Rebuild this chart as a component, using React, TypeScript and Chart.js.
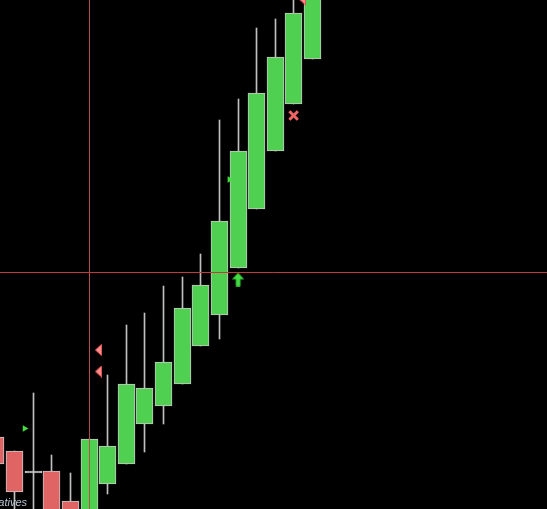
import React, { useEffect, useRef } from 'react';
import { Chart, registerables } from 'chart.js';

Chart.register(...registerables);

// Candle data (index on a linear axis, prices)
const candleIndex = [0, 1, 2, 3, 4, 5, 6, 7, 8, 9, 10, 11, 12, 13, 14, 15, 16, 17];
const opens = [107.2, 105.8, 103.8, 103.8, 100.8, 98.5, 102.5, 104.5, 108.5, 110.3, 112.5, 116.3, 119.4, 124.1, 130.0, 135.8, 140.5, 145.0];
const closes = [104.5, 101.7, 103.6, 99.0, 98.5, 107.0, 106.3, 112.5, 112.1, 114.7, 120.1, 122.4, 128.8, 135.8, 141.6, 145.2, 149.6, 153.0];
const highs = [107.2, 105.8, 111.6, 105.4, 103.6, 107.0, 113.4, 118.4, 119.6, 122.3, 123.2, 125.5, 138.9, 141.0, 148.1, 149.0, 151.5, 154.0];
const lows = [104.5, 99.0, 99.0, 98.0, 98.0, 98.0, 101.5, 104.5, 105.7, 108.5, 112.5, 116.3, 117.0, 124.1, 130.0, 135.8, 140.5, 145.0];

// Signal markers
const buyTriX = [1.54, 12.54];
const buyTriY = [108.05, 132.95];
const sellMarkX = [5.5, 5.5, 16.46];
const sellMarkY = [115.9, 113.75, 150.95];
const buyArrowX = [13.0];
const buyArrowY = [122.95];
const exitX = [15.98];
const exitY = [139.35];

// Crosshair
const crossX = 5;
const crossY = 123.65;

const labelText = 'Derivatives';

const GREEN = '#50d050';
const RED = '#e06464';
const EDGE = '#c8c8c8';

function makeArrow(): HTMLCanvasElement {
  const c = document.createElement('canvas');
  c.width = 12;
  c.height = 14;
  const g = c.getContext('2d')!;
  g.fillStyle = '#44dd44';
  g.strokeStyle = '#30b030';
  g.lineWidth = 1;
  g.beginPath();
  g.moveTo(6, 0.5);
  g.lineTo(11.5, 6.5);
  g.lineTo(8, 6.5);
  g.lineTo(8, 13.5);
  g.lineTo(4, 13.5);
  g.lineTo(4, 6.5);
  g.lineTo(0.5, 6.5);
  g.closePath();
  g.fill();
  g.stroke();
  return c;
}

function makeLeftMark(): HTMLCanvasElement {
  const c = document.createElement('canvas');
  c.width = 7;
  c.height = 12;
  const g = c.getContext('2d')!;
  g.fillStyle = '#ff8c8c';
  g.strokeStyle = '#e05454';
  g.lineWidth = 1;
  g.beginPath();
  g.moveTo(0.5, 6);
  g.lineTo(6.5, 0.5);
  g.lineTo(6.5, 11.5);
  g.closePath();
  g.fill();
  g.stroke();
  return c;
}

const snapPlugin = {
  id: 'snap',
  afterDatasetsUpdate(chart: any) {
    chart.data.datasets.forEach((_d: any, i: number) => {
      const meta = chart.getDatasetMeta(i);
      if (meta.type !== 'bar') return;
      meta.data.forEach((el: any) => {
        el.x = Math.floor(el.x) + 0.5;
        el.y = Math.round(el.y);
        el.base = Math.round(el.base);
      });
    });
  },
};

const crossPlugin = {
  id: 'cross',
  afterDatasetsDraw(chart: any) {
    const ctx = chart.ctx;
    const xs = chart.scales.x;
    const ys = chart.scales.y;
    const px = Math.floor(xs.getPixelForValue(crossX)) + 0.5;
    const py = Math.floor(ys.getPixelForValue(crossY)) + 0.5;
    ctx.save();
    ctx.lineWidth = 1;
    ctx.strokeStyle = '#b84c4c';
    ctx.beginPath();
    ctx.moveTo(px, 0);
    ctx.lineTo(px, chart.height);
    ctx.stroke();
    ctx.strokeStyle = '#c03c3c';
    ctx.beginPath();
    ctx.moveTo(0, py);
    ctx.lineTo(chart.width, py);
    ctx.stroke();
    ctx.restore();
  },
  afterDraw(chart: any) {
    const ctx = chart.ctx;
    ctx.save();
    ctx.font = 'italic 11px "Liberation Sans"';
    ctx.fillStyle = '#b8c2d0';
    ctx.textAlign = 'right';
    ctx.textBaseline = 'alphabetic';
    ctx.fillText(labelText, 27, 506);
    ctx.restore();
  },
};

export default function App() {
  const ref = useRef<HTMLCanvasElement>(null);

  useEffect(() => {
    document.body.style.margin = '0';
    document.body.style.background = '#000';
    const bodyColors = candleIndex.map((i) =>
      Math.abs(closes[i] - opens[i]) < 0.3 ? EDGE : closes[i] > opens[i] ? GREEN : RED
    );
    const arrow = makeArrow();
    const leftMark = makeLeftMark();
    const chart = new Chart(ref.current!, {
      type: 'bar',
      data: {
        datasets: [
          {
            type: 'bar',
            data: candleIndex.map((i) => ({ x: i, y: [lows[i], highs[i]] })) as any,
            backgroundColor: '#c0c0c0',
            borderWidth: 0,
            barThickness: 1,
            grouped: false,
            order: 3,
          } as any,
          {
            type: 'bar',
            data: candleIndex.map((i) => ({ x: i, y: [opens[i], closes[i]] })) as any,
            backgroundColor: bodyColors,
            borderColor: EDGE,
            borderWidth: 1,
            borderSkipped: false,
            barThickness: 17,
            grouped: false,
            order: 2,
          } as any,
          {
            type: 'scatter',
            data: buyTriX.map((x, i) => ({ x, y: buyTriY[i] })),
            pointStyle: 'triangle',
            rotation: 90,
            pointRadius: 3.8,
            backgroundColor: '#44dd44',
            borderColor: '#44dd44',
            borderWidth: 0,
            order: 1,
          } as any,
          {
            type: 'scatter',
            data: sellMarkX.map((x, i) => ({ x, y: sellMarkY[i] })),
            pointStyle: leftMark,
            pointRadius: 6,
            order: 1,
          } as any,
          {
            type: 'scatter',
            data: buyArrowX.map((x, i) => ({ x, y: buyArrowY[i] })),
            pointStyle: arrow,
            pointRadius: 6,
            order: 1,
          } as any,
          {
            type: 'scatter',
            data: exitX.map((x, i) => ({ x, y: exitY[i] })),
            pointStyle: 'crossRot',
            pointRadius: 6,
            borderWidth: 3,
            borderColor: '#f06464',
            backgroundColor: '#f06464',
            order: 1,
          } as any,
        ],
      },
      options: {
        animation: false,
        responsive: true,
        maintainAspectRatio: false,
        layout: { padding: 0, autoPadding: false },
        plugins: { legend: { display: false }, tooltip: { enabled: false } },
        scales: {
          x: { type: 'linear', display: false, min: 0.2161, max: 29.5852, offset: false },
          y: { type: 'linear', display: false, min: 100, max: 150.9 },
        },
      },
      plugins: [snapPlugin, crossPlugin],
    });
    return () => chart.destroy();
  }, []);

  return (
    <div style={{ width: 547, height: 509, background: '#000', position: 'relative' }}>
      <canvas ref={ref} />
    </div>
  );
}
